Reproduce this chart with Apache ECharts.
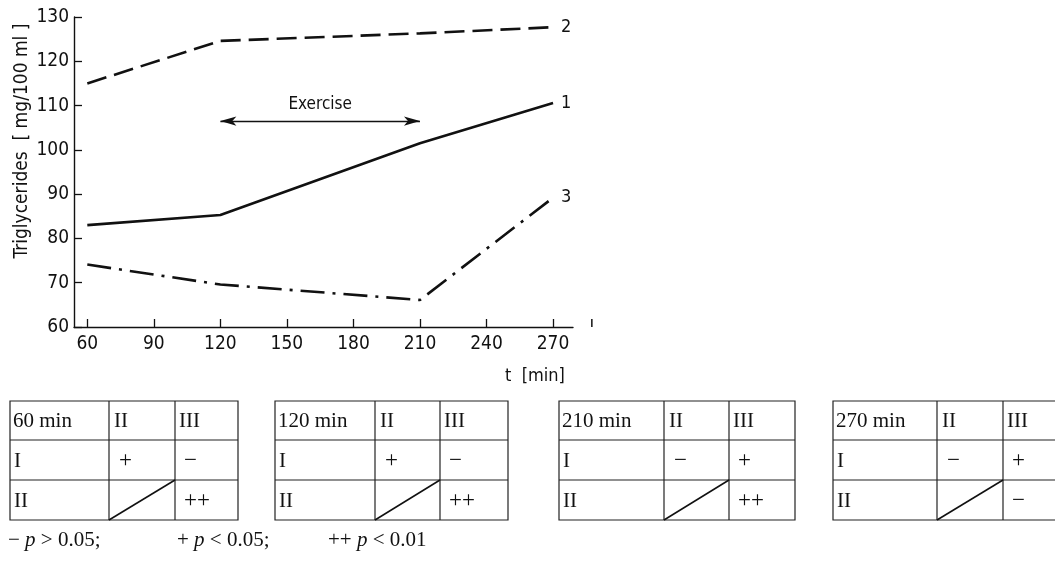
<!DOCTYPE html>
<html>
<head>
<meta charset="utf-8">
<script src="https://cdn.jsdelivr.net/npm/echarts@6/dist/echarts.min.js"></script>
<style>
  html, body { margin: 0; padding: 0; background: #fff; }
  #chart { width: 1055px; height: 565px; }
</style>
</head>
<body>
<div id="chart"></div>
<script>
// Sampling times (min) and triglyceride levels (mg/100 ml) for the three groups
const times = [60, 120, 210, 270];
const group1 = [83.0, 85.3, 101.5, 110.6];   // solid line
const group2 = [115.0, 124.6, 126.3, 127.7]; // dashed line
const group3 = [74.1, 69.6, 66.1, 89.2];     // dash-dot line

const xTicks = [60, 90, 120, 150, 180, 210, 240, 270];
const yTicks = [60, 70, 80, 90, 100, 110, 120, 130];

// Exercise period
const exerciseStart = 120;
const exerciseEnd = 210;
const exerciseLevel = 106.5;

// Pairwise significance tables at each sampling time
const tableTitles = ['60 min', '120 min', '210 min', '270 min'];
const sigI_II   = ['+', '+', '\u2212', '\u2212'];
const sigI_III  = ['\u2212', '\u2212', '+', '+'];
const sigII_III = ['++', '++', '++', '\u2212'];

const condensed = "'Liberation Sans Narrow', 'DejaVu Sans Condensed', 'Roboto Condensed', 'Liberation Sans', sans-serif";
const serif = "'Liberation Serif', 'DejaVu Serif', serif";

const chart = echarts.init(document.getElementById('chart'), null, { renderer: 'canvas' });

function pairs(ys) { return times.map((t, i) => [t, ys[i]]); }

function lineSeries(name, ys, dash) {
  return {
    name: name,
    type: 'line',
    data: pairs(ys),
    symbol: 'none',
    lineStyle: { color: '#111', width: 2.6, type: dash },
    endLabel: {
      show: true,
      formatter: p => p.seriesName,
      distance: 8,
      color: '#111',
      fontFamily: condensed,
      fontSize: 18
    },
    silent: true
  };
}

const s1 = lineSeries('1', group1, 'solid');
s1.markLine = {
  silent: true,
  symbol: ['arrow', 'arrow'],
  symbolSize: [7, 16],
  lineStyle: { color: '#111', width: 1.3, type: 'solid' },
  label: {
    show: true,
    position: 'middle',
    formatter: 'Exercise',
    distance: 8,
    color: '#111',
    fontFamily: condensed,
    fontSize: 17
  },
  data: [[{ coord: [exerciseStart, exerciseLevel] }, { coord: [exerciseEnd, exerciseLevel] }]]
};

const option = {
  animation: false,
  backgroundColor: '#fff',
  grid: { left: 74, right: 482, top: 17, bottom: 238 },
  xAxis: {
    type: 'value',
    min: 54,
    max: 279,
    axisLine: { lineStyle: { color: '#111', width: 1.4 } },
    axisTick: { inside: true, length: 8, customValues: xTicks, lineStyle: { color: '#111', width: 1.3 } },
    axisLabel: { customValues: xTicks, color: '#111', fontFamily: condensed, fontSize: 19, margin: 8 },
    splitLine: { show: false }
  },
  yAxis: {
    type: 'value',
    min: yTicks[0],
    max: yTicks[yTicks.length - 1],
    interval: 10,
    axisLine: { show: true, lineStyle: { color: '#111', width: 1.4 } },
    axisTick: { show: true, inside: true, length: 8, lineStyle: { color: '#111', width: 1.3 } },
    axisLabel: { color: '#111', fontFamily: condensed, fontSize: 19, margin: 5 },
    splitLine: { show: false }
  },
  series: [
    s1,
    lineSeries('2', group2, [20, 8]),
    lineSeries('3', group3, [24, 8, 3, 8])
  ]
};

chart.setOption(option);

// Axis titles, stray tick, tables and key are drawn as graphic elements
const graphics = [];

graphics.push({
  type: 'text',
  x: 22, y: 141,
  rotation: Math.PI / 2,
  style: {
    text: 'Triglycerides  [ mg/100 ml ]',
    fill: '#111',
    font: "19px " + condensed,
    align: 'center',
    verticalAlign: 'middle'
  }
});

graphics.push({
  type: 'text',
  x: 535, y: 376,
  style: {
    text: 't  [min]',
    fill: '#111',
    font: "18px " + condensed,
    align: 'center',
    verticalAlign: 'middle'
  }
});

// small isolated tick beyond the end of the time axis
const strayBase = chart.convertToPixel({ gridIndex: 0 }, [287.5, 60]);
graphics.push({
  type: 'line',
  shape: { x1: strayBase[0], y1: strayBase[1] - 8, x2: strayBase[0], y2: strayBase[1] },
  style: { stroke: '#111', lineWidth: 1.5 }
});

// Significance tables
const tableCols = [
  [10, 109, 175, 238],
  [275, 375, 440, 508],
  [559, 664, 729, 795],
  [833, 937, 1003, 1069]
];
const tableRows = [401, 440, 480, 520];
const lineCol = '#222';

tableTitles.forEach((title, k) => {
  const c = tableCols[k];
  const r = tableRows;
  // outer frame
  graphics.push({
    type: 'rect',
    shape: { x: c[0], y: r[0], width: c[3] - c[0], height: r[3] - r[0] },
    style: { fill: 'none', stroke: lineCol, lineWidth: 1.2 }
  });
  // inner lines
  [r[1], r[2]].forEach(y => graphics.push({
    type: 'line', shape: { x1: c[0], y1: y, x2: c[3], y2: y },
    style: { stroke: lineCol, lineWidth: 1.2 }
  }));
  [c[1], c[2]].forEach(x => graphics.push({
    type: 'line', shape: { x1: x, y1: r[0], x2: x, y2: r[3] },
    style: { stroke: lineCol, lineWidth: 1.2 }
  }));
  // diagonal in the empty II/II cell
  graphics.push({
    type: 'line', shape: { x1: c[1], y1: r[3], x2: c[2], y2: r[2] },
    style: { stroke: '#111', lineWidth: 1.6 }
  });
  // [text, column, row, left padding, font size]
  const cells = [
    [title, 0, 0, 3, 21], ['II', 1, 0, 5, 21], ['III', 2, 0, 4, 21],
    ['I', 0, 1, 4, 21], [sigI_II[k], 1, 1, 10, 23], [sigI_III[k], 2, 1, 9, 23],
    ['II', 0, 2, 4, 21], [sigII_III[k], 2, 2, 9, 23]
  ];
  cells.forEach(([txt, ci, ri, pad, fs]) => {
    graphics.push({
      type: 'text',
      x: c[ci] + pad,
      y: (r[ri] + r[ri + 1]) / 2 + 1,
      style: {
        text: txt, fill: '#111', font: fs + "px " + serif,
        align: 'left', verticalAlign: 'middle'
      }
    });
  });
});

// Key to the significance symbols
const keyItems = [
  { sym: '\u2212', rel: ' > 0.05;', x: 8 },
  { sym: '+', rel: ' < 0.05;', x: 177 },
  { sym: '++', rel: ' < 0.01', x: 328 }
];
keyItems.forEach(it => {
  graphics.push({
    type: 'text',
    x: it.x, y: 540,
    style: {
      text: '{n|' + it.sym + ' }{i|p}{n|' + it.rel + '}',
      verticalAlign: 'middle',
      align: 'left',
      rich: {
        n: { fontFamily: serif, fontSize: 21, fill: '#111' },
        i: { fontFamily: serif, fontSize: 21, fontStyle: 'italic', fill: '#111' }
      }
    }
  });
});

chart.setOption({ graphic: { elements: graphics } });
</script>
</body>
</html>
